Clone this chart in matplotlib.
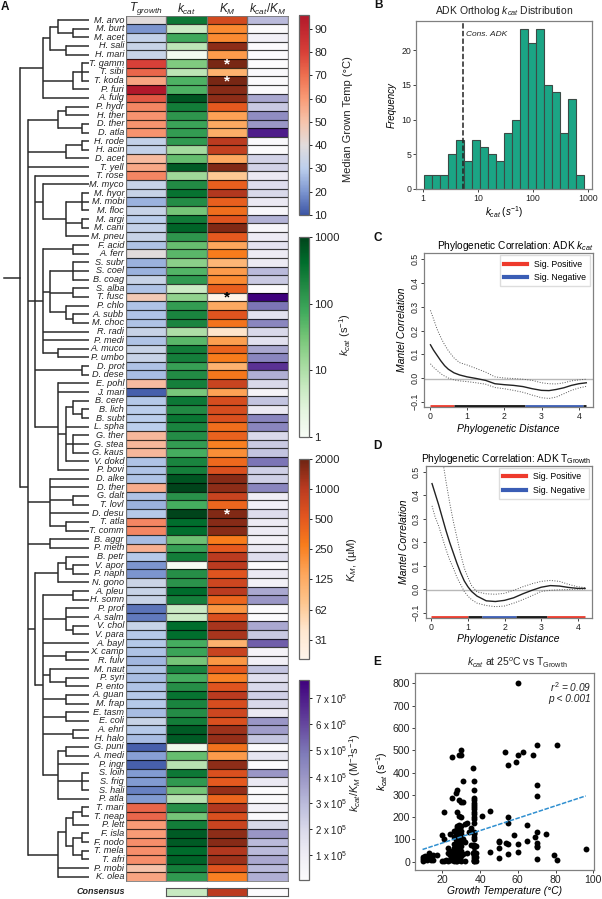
"""Recreate the ADK ortholog figure: tree heatmap plus four side panels."""

from __future__ import annotations

import matplotlib
matplotlib.use("Agg")
import matplotlib.pyplot as plt
import numpy as np
from matplotlib.cm import ScalarMappable
from matplotlib.colors import LinearSegmentedColormap, LogNorm, Normalize

plt.rcParams["font.family"] = ["Liberation Sans", "DejaVu Sans"]
plt.rcParams["mathtext.fontset"] = "custom"
plt.rcParams["mathtext.rm"] = "Liberation Sans"
plt.rcParams["mathtext.it"] = "Liberation Sans:italic"
plt.rcParams["mathtext.bf"] = "Liberation Sans:bold"

W, H = 602, 899

species = [
    "M. arvo", "M. burt", "M. acet", "H. sali", "H. mari", "T. gamm", "T. sibi", "T. koda", "P. furi", "A. fulg",
    "P. hydr", "H. ther", "D. ther", "D. atla", "H. rode", "H. acin", "D. acet", "T. yell", "T. rose", "M. myco",
    "M. hyor", "M. mobi", "M. floc", "M. argi", "M. cani", "M. pneu", "F. acid", "A. ferr", "S. subr", "S. coel",
    "B. coag", "S. alba", "T. fusc", "P. chlo", "A. subb", "M. choc", "R. radi", "P. medi", "A. muco", "P. umbo",
    "D. prot", "D. dese", "E. pohl", "J. mari", "B. cere", "B. lich", "B. subt", "L. spha", "G. ther", "G. stea",
    "G. kaus", "V. dokd", "P. bovi", "D. alke", "D. ther", "G. dalt", "T. lovl", "D. desu", "T. atla", "T. comm",
    "B. aggr", "P. meth", "B. petr", "V. apor", "P. naph", "N. gono", "A. pleu", "H. somn", "P. prof", "A. salm",
    "V. chol", "V. para", "A. bayl", "X. camp", "R. fulv", "M. naut", "P. syri", "P. ento", "A. guan", "M. frap",
    "E. tasm", "E. coli", "A. ehrl", "H. halo", "G. puni", "A. medi", "P. ingr", "S. loih", "S. frig", "S. hali",
    "P. atla", "T. mari", "T. neap", "P. lett", "F. isla", "F. nodo", "T. mela", "T. afri", "P. mobi", "K. olea",
]

t_growth = [
    40, 20, 32, 33, 33, 80, 72, 58, 96, 75,
    65, 62, 62, 62, 32, 32, 52, 57, 65, 33,
    33, 25, 33, 30, 32, 33, 28, 40, 25, 25,
    33, 28, 48, 28, 28, 28, 33, 28, 33, 33,
    28, 27, 52, 12, 29, 30, 30, 30, 53, 53,
    53, 28, 28, 28, 56, 28, 25, 29, 65, 65,
    27, 55, 29, 20, 20, 34, 33, 33, 15, 16,
    33, 29, 29, 28, 26, 28, 27, 28, 29, 29,
    27, 33, 29, 27, 12, 22, 12, 21, 21, 17,
    21, 72, 72, 60, 60, 63, 63, 63, 50, 58,
]
kcat = [
    300, 5, 80, 7, 1.3, 25, 7, 60, 60, 700,
    260, 130, 90, 110, 120, 12, 40, 600, 14, 180,
    350, 170, 30, 280, 500, 130, 40, 50, 20, 55,
    120, 5, 18, 110, 220, 220, 10, 50, 260, 250,
    100, 180, 250, 28, 300, 180, 330, 220, 170, 110,
    70, 220, 250, 700, 1000, 150, 70, 1000, 400, 400,
    35, 100, 260, 1.1, 160, 140, 430, 250, 5, 5,
    400, 400, 70, 90, 30, 220, 70, 160, 350, 220,
    170, 260, 600, 600, 1.5, 40, 8, 300, 120, 30,
    8, 160, 30, 260, 600, 600, 430, 520, 250, 120,
]
km = [
    700, 220, 220, 1500, 170, 1800, 110, 1800, 1600, 1500,
    500, 150, 130, 120, 1000, 900, 130, 1700, 70, 450,
    1100, 450, 350, 550, 1700, 500, 140, 280, 100, 170,
    220, 450, 22, 130, 550, 320, 40, 160, 420, 280,
    110, 300, 800, 150, 650, 650, 600, 350, 430, 260,
    210, 380, 600, 1600, 1500, 800, 400, 1700, 1600, 1600,
    280, 500, 1000, 1000, 550, 750, 1000, 400, 180, 600,
    1200, 1200, 110, 800, 180, 500, 250, 550, 1000, 650,
    750, 600, 1300, 1400, 330, 170, 1500, 600, 500, 1400,
    400, 1100, 600, 800, 1500, 1600, 1100, 1300, 550, 260,
]
kcat_km_1e5 = [
    3.0, 0.1, 0.8, 0.05, 0.05, 0.05, 0.2, 0.1, 0.1, 3.5,
    2.5, 4.3, 4.0, 7.0, 0.2, 0.1, 2.2, 2.2, 1.2, 1.8,
    2.0, 1.2, 0.4, 3.2, 0.4, 1.1, 1.5, 1.1, 1.1, 3.0,
    2.5, 0.05, 7.7, 5.0, 1.6, 4.5, 2.0, 1.6, 3.5, 4.5,
    6.5, 3.3, 2.0, 0.6, 2.7, 1.2, 4.5, 4.5, 2.0, 2.5,
    2.7, 5.0, 2.3, 2.3, 4.5, 1.0, 0.8, 1.8, 1.1, 1.1,
    0.7, 1.2, 1.8, 0.05, 1.2, 0.7, 3.5, 4.0, 0.05, 0.05,
    3.5, 2.5, 5.5, 0.6, 0.8, 2.7, 1.7, 2.0, 2.3, 2.0,
    1.2, 4.0, 3.8, 2.6, 0.05, 1.4, 0.05, 4.0, 1.2, 0.05,
    0.1, 0.7, 0.2, 2.0, 4.0, 3.0, 3.0, 3.5, 3.0, 3.3,
]
consensus_kcat = 5.5
consensus_km = 1000
consensus_kcat_km = 0.05
star_rows = {"T. gamm": "white", "T. koda": "white", "T. fusc": "black", "D. desu": "white"}


def leaves(first, last, depth):
    """Clade at a given depth with consecutive species as its leaves."""
    return (depth, list(range(first, last + 1)))


# tree as nested (depth, children); an int child is a row in species
tree = (20, [
    (43, [
        (50, [
            (58, [0, leaves(1, 2, 73)]),
            leaves(3, 4, 66),
        ]),
        (73, [leaves(5, 7, 82), 8]),
        9,
    ]),
    (28, [
        (58, [leaves(10, 11, 66), leaves(12, 13, 82)]),
        (66, [leaves(14, 15, 82), 16]),
        17,
        (35, [
            18,
            (43, [19, (66, [leaves(20, 22, 82), leaves(23, 24, 82), 25])]),
            (43, [
                leaves(26, 27, 73),
                (50, [
                    leaves(28, 30, 73),
                    leaves(31, 32, 73),
                    (66, [33, leaves(34, 35, 73)]),
                ]),
                36,
                37,
                leaves(38, 39, 58),
            ]),
            leaves(40, 41, 82),
            (58, [
                42,
                43,
                (66, [
                    (73, [44, leaves(45, 46, 82)]),
                    47,
                    leaves(48, 50, 73),
                    51,
                ]),
                52,
            ]),
        ]),
        (50, [53, 54, leaves(55, 56, 73), 57, leaves(58, 59, 66)]),
        leaves(60, 61, 50),
        (35, [
            (58, [(66, [62, leaves(63, 64, 73)]), 65]),
            (43, [
                leaves(66, 67, 73),
                (66, [68, 69, leaves(70, 71, 73)]),
                72,
                leaves(73, 74, 66),
                (50, [75, leaves(76, 77, 66)]),
                leaves(78, 79, 66),
                leaves(80, 81, 66),
                leaves(82, 83, 73),
                (58, [leaves(84, 85, 66), 86, leaves(87, 89, 82), 90]),
            ]),
        ]),
        (58, [
            (66, [
                (73, [leaves(91, 92, 82), 93]),
                (73, [leaves(94, 95, 82), leaves(96, 97, 82)]),
            ]),
            98,
            99,
        ]),
    ]),
])
tree_root_start = 4
leaf_end = 89

bin_counts = [2, 2, 2, 5, 7, 4, 7, 6, 5, 4, 8, 10, 23, 21, 23, 15, 14, 8, 13, 2]
bin_low, bin_high = 1.056, 853
cons_adk_kcat = 5.3

c_dist = [0.02, 0.1, 0.2, 0.3, 0.4, 0.5, 0.65, 0.8, 1.0, 1.25, 1.5, 1.75, 2.0, 2.25, 2.5, 2.75, 3.0, 3.2, 3.4, 3.6, 3.8, 4.0, 4.2]
c_mean = [0.14, 0.118, 0.095, 0.072, 0.052, 0.037, 0.022, 0.013, 0.005, -0.002, -0.01, -0.024, -0.028, -0.031, -0.036, -0.045, -0.052, -0.053, -0.048, -0.041, -0.031, -0.024, -0.02]
c_upper = [0.285, 0.25, 0.205, 0.17, 0.14, 0.115, 0.085, 0.065, 0.055, 0.04, 0.025, 0.005, 0.0, -0.002, -0.005, -0.01, -0.02, -0.024, -0.025, -0.02, -0.012, -0.008, -0.005]
c_lower = [0.06, 0.045, 0.032, 0.018, 0.008, 0.0, -0.008, -0.012, -0.015, -0.02, -0.026, -0.04, -0.045, -0.052, -0.06, -0.072, -0.083, -0.086, -0.08, -0.066, -0.052, -0.042, -0.035]
c_sig = [(0.0, 0.65, "pos"), (0.65, 2.55, "ns"), (2.55, 4.1, "neg"), (4.1, 4.2, "ns")]

d_dist = [0.02, 0.1, 0.2, 0.3, 0.4, 0.5, 0.6, 0.7, 0.8, 0.9, 1.0, 1.1, 1.25, 1.5, 1.75, 2.0, 2.25, 2.5, 2.75, 3.0, 3.25, 3.5, 3.75, 4.0, 4.2]
d_mean = [0.45, 0.41, 0.36, 0.305, 0.25, 0.2, 0.155, 0.11, 0.07, 0.035, 0.01, -0.01, -0.03, -0.05, -0.053, -0.048, -0.037, -0.02, -0.005, 0.008, 0.015, 0.013, 0.007, 0.003, 0.003]
d_upper = [0.85, 0.76, 0.66, 0.56, 0.46, 0.37, 0.29, 0.22, 0.15, 0.09, 0.05, 0.015, -0.012, -0.02, -0.022, -0.018, -0.005, 0.01, 0.023, 0.033, 0.037, 0.033, 0.02, 0.01, 0.006]
d_lower = [0.355, 0.31, 0.27, 0.22, 0.17, 0.125, 0.09, 0.05, 0.02, -0.01, -0.03, -0.045, -0.06, -0.07, -0.075, -0.072, -0.06, -0.045, -0.028, -0.01, -0.005, -0.003, -0.002, 0.0, 0.0]
d_sig = [(0.0, 1.0, "pos"), (1.0, 1.38, "ns"), (1.38, 2.3, "neg"), (2.3, 3.15, "ns"), (3.15, 4.2, "pos")]

scatter_temp = [
    10, 10, 10, 11, 11, 12, 13, 13, 14, 15, 15, 17,
    20, 20, 21, 21, 21, 22, 23, 23, 23, 24, 24, 24, 24, 25, 25, 25, 25,
    26, 26, 26, 26, 26, 26, 26, 26, 27, 27, 27, 27, 27, 27, 27, 27, 27, 27, 27, 27,
    28, 28, 28, 28, 28, 28, 28, 28, 28, 28, 28, 28, 28, 28, 28, 28, 28,
    29, 29, 29, 29, 29, 29, 29, 29, 29, 29, 29, 29,
    30, 30, 30, 30, 30, 30, 30, 30, 30, 30, 30, 30, 30,
    31, 31, 31, 31, 32, 32, 32, 33, 33, 34, 35, 35, 36, 36, 36,
    37, 37, 37, 37, 37, 37, 37, 37, 37, 37, 37, 37, 37, 37, 37, 37, 37, 37, 37, 37, 37, 37, 37, 37, 37, 37, 37, 37,
    38, 38, 38, 38, 41, 45, 45, 50, 50, 50, 50, 53, 54, 55, 55, 55, 55, 55,
    58, 59, 60, 60, 60, 60, 63, 65, 65, 68, 69, 70, 70, 70, 70, 70, 70, 70, 70, 75, 79, 81, 81, 96,
]
scatter_kcat = [
    5, 12, 20, 25, 12, 8, 40, 15, 6, 30, 6, 30,
    120, 5, 225, 100, 5, 6, 60, 40, 5, 125, 50, 30, 8, 285, 470, 25, 10,
    140, 110, 80, 60, 45, 30, 15, 5, 310, 135, 125, 100, 85, 70, 60, 50, 35, 20, 10, 5,
    320, 225, 160, 150, 140, 130, 120, 105, 95, 85, 70, 60, 50, 40, 25, 15, 5,
    480, 275, 205, 165, 145, 120, 100, 80, 65, 50, 30, 8,
    500, 480, 270, 200, 160, 140, 125, 105, 90, 70, 50, 25, 5,
    360, 270, 100, 35, 170, 90, 5, 175, 40, 135, 150, 75, 420, 75, 40,
    360, 320, 285, 275, 265, 255, 245, 235, 225, 215, 200, 190, 175, 135, 125, 110, 100, 75, 70, 65, 45, 40, 25, 15, 10, 5, 3, 130,
    70, 40, 20, 5, 205, 228, 42, 95, 88, 60, 18, 490, 85, 435, 200, 172, 78, 35,
    120, 448, 478, 80, 42, 803, 492, 163, 92, 478, 110, 522, 342, 295, 135, 82, 72, 65, 12, 125, 30, 525, 8, 58,
]
trend_temp = [9.5, 96]
trend_kcat = [55, 295]

GRID = "#808080"
TEXT = "#222222"
SIG_COLORS = {"pos": "#ee3a2c", "neg": "#3a5db5", "ns": "#111111"}
temp_anchors = [
    (10, "#3c55a5"), (20, "#7d96d0"), (30, "#bccfec"), (40, "#e2dcdc"), (50, "#f6c4ac"),
    (60, "#f99b76"), (70, "#ee7050"), (80, "#d84038"), (96, "#b2182b"),
]
temp_cmap = LinearSegmentedColormap.from_list("temp", [((t - 10) / 86, c) for t, c in temp_anchors])
km_cmap = LinearSegmentedColormap.from_list(
    "km", ["#fff5eb", "#fee6ce", "#fdc48c", "#fda55a", "#f87c1c", "#e2551f", "#b93a20", "#6e2412"]
)


def axes_px(left, top, right, bottom):
    return fig.add_axes([left / W, 1 - bottom / H, (right - left) / W, (bottom - top) / H])


def draw_clade(ax, node, parent_x=None):
    """Draw a clade as elbow lines and return the row at which it joins its parent."""
    if isinstance(node, int):
        ax.plot([parent_x, leaf_end], [node, node], color="#2b2b2b", lw=1.1, solid_capstyle="butt")
        return node
    depth, children = node
    rows = [draw_clade(ax, child, depth) for child in children]
    ax.plot([depth, depth], [rows[0], rows[-1]], color="#2b2b2b", lw=1.1, solid_capstyle="projecting")
    row = (rows[0] + rows[-1]) / 2
    if parent_x is not None:
        ax.plot([parent_x, depth], [row, row], color="#2b2b2b", lw=1.1, solid_capstyle="butt")
    return row


def style_spines(ax):
    for spine in ax.spines.values():
        spine.set_color(GRID)
        spine.set_linewidth(0.9)


def mantel_panel(ax, title, dist, mean, upper, lower, sig):
    ax.axhline(-0.005, color="#b8b8b8", lw=1.0)
    ax.plot(dist, upper, color="#555555", lw=0.7, ls=(0, (1, 1.6)))
    ax.plot(dist, lower, color="#555555", lw=0.7, ls=(0, (1, 1.6)))
    ax.plot(dist, mean, color="#222222", lw=1.0)
    for start, end, kind in sig:
        ax.plot([start, end], [-0.118, -0.118], color=SIG_COLORS[kind], lw=2.0, solid_capstyle="butt")
    ax.plot([], [], color=SIG_COLORS["pos"], lw=3, label="Sig. Positive")
    ax.plot([], [], color=SIG_COLORS["neg"], lw=3, label="Sig. Negative")
    ax.set_xlim(-0.153, 4.38)
    ax.set_ylim(-0.122, 0.5265)
    ax.set_xticks([0, 1, 2, 3, 4])
    ax.set_yticks([-0.1, 0.0, 0.1, 0.2, 0.3, 0.4, 0.5])
    ax.tick_params(axis="y", labelrotation=90, labelsize=6.3, length=2, width=0.6, pad=1.5, colors=TEXT)
    for label in ax.get_yticklabels():
        label.set_va("center")
    ax.tick_params(axis="x", labelsize=6.3, length=2, width=0.6, pad=1.5, colors=TEXT)
    ax.set_xlabel("Phylogenetic Distance", fontsize=7.5, style="italic", labelpad=2)
    ax.set_ylabel("Mantel Correlation", fontsize=7.5, style="italic", labelpad=2)
    ax.set_title(title, fontsize=7.3, pad=3, loc="right")
    ax.legend(loc="upper right", fontsize=6.3, handlelength=2.6, borderpad=0.5, labelspacing=0.5,
              bbox_to_anchor=(0.985, 0.985), borderaxespad=0, fancybox=False, edgecolor="#dddddd", framealpha=1)
    style_spines(ax)


fig = plt.figure(figsize=(W / 100, H / 100), dpi=100)

# tree and species labels
top_px, bottom_px = 15.7, 881
tree_ax = axes_px(0, top_px, 126, bottom_px)
tree_ax.set_xlim(0, 126)
tree_ax.set_ylim(len(species) - 0.5, -0.5)
tree_ax.axis("off")
root_row = draw_clade(tree_ax, tree)
tree_ax.plot([tree_root_start, tree[0]], [root_row, root_row], color="#2b2b2b", lw=1.1)
for row, name in enumerate(species):
    tree_ax.text(124, row, name, ha="right", va="center", fontsize=6.6, style="italic", color=TEXT)

# heatmap columns
columns = [
    (np.array(t_growth, float), temp_cmap, Normalize(10, 96)),
    (np.array(kcat, float), plt.cm.Greens, LogNorm(1, 1000)),
    (np.array(km, float), km_cmap, LogNorm(20, 2000)),
    (np.array(kcat_km_1e5, float), plt.cm.Purples, Normalize(0.04, 7.7)),
]
headers = [r"$T_{growth}$", r"$k_{cat}$", r"$K_{M}$", r"$k_{cat}/K_{M}$"]
col_edges = [126, 166.3, 207, 247.3, 288]
row_edges = np.arange(len(species) + 1) - 0.5
for i, (values, cmap, norm) in enumerate(columns):
    ax = axes_px(col_edges[i], top_px, col_edges[i + 1], bottom_px)
    ax.pcolormesh(np.arange(2), row_edges, values[:, None], cmap=cmap, norm=norm)
    ax.hlines(row_edges[1:-1], 0, 1, color="black", alpha=0.75, lw=0.85)
    ax.vlines([0, 1], row_edges[0], row_edges[-1], color="#555555", lw=0.9)
    ax.set_xlim(0, 1)
    ax.set_ylim(len(species) - 0.5, -0.5)
    ax.set_xticks([])
    ax.set_yticks([])
    for spine in ax.spines.values():
        spine.set_color("#777777")
        spine.set_linewidth(0.6)
    fig.text((col_edges[i] + col_edges[i + 1]) / 2 / W, 1 - 9 / H, headers[i], ha="center", va="center", fontsize=8.5, color=TEXT)
    if i == 2:
        for name, colour in star_rows.items():
            ax.text(0.5, species.index(name) + 0.1, "*", ha="center", va="center", color=colour, fontsize=11, fontweight="bold")

# consensus strip
fig.text(125 / W, 1 - 892 / H, "Consensus", ha="right", va="center", fontsize=6.5, style="italic", fontweight="bold", color=TEXT)
consensus_values = [consensus_kcat, consensus_km, consensus_kcat_km]
for i, value in enumerate(consensus_values):
    ax = axes_px(col_edges[i + 1], 888, col_edges[i + 2], 896)
    _, cmap, norm = columns[i + 1]
    ax.pcolormesh([0, 1], [0, 1], [[value]], cmap=cmap, norm=norm)
    ax.set_xticks([])
    ax.set_yticks([])
    for spine in ax.spines.values():
        spine.set_color("#555555")
        spine.set_linewidth(0.8)

# colorbars
bars = [
    (15, 215, temp_cmap, Normalize(10, 96), [10, 20, 30, 40, 50, 60, 70, 80, 90], [str(v) for v in range(10, 100, 10)],
     "Median Grown Temp (°C)", 348, 119, 8.2),
    (237, 437, plt.cm.Greens, LogNorm(1, 1000), [1, 10, 100, 1000], ["1", "10", "100", "1000"],
     r"$k_{cat}$ (s$^{-1}$)", 345, 335, 8.2),
    (459, 659, km_cmap, LogNorm(20, 2000), [31, 62, 125, 250, 500, 1000, 2000],
     ["31", "62", "125", "250", "500", "1000", "2000"], r"$K_{M}$, (µM)", 352, 560, 8.2),
    (680, 880, plt.cm.Purples, Normalize(0.04, 7.7), [1, 2, 3, 4, 5, 6, 7],
     [f"{v} x 10$^{{5}}$" for v in range(1, 8)], r"$k_{cat}/K_{M}$ (M$^{-1}$s$^{-1}$)", 355, 773, 7.0),
]
for top, bottom, cmap, norm, ticks, labels, title, lx, ly, size in bars:
    cax = axes_px(299, top, 309, bottom)
    cbar = fig.colorbar(ScalarMappable(norm=norm, cmap=cmap), cax=cax)
    cbar.set_ticks(ticks, labels=labels)
    cbar.minorticks_off()
    cbar.ax.tick_params(labelsize=size, length=2.5, width=0.7, pad=1.5, colors=TEXT)
    cbar.outline.set_edgecolor("#666666")
    cbar.outline.set_linewidth(0.9)
    fig.text(lx / W, 1 - ly / H, title, rotation=90, ha="center", va="center", fontsize=8, color=TEXT)

# panel B
ax = axes_px(416, 21, 592, 189)
edges = np.logspace(np.log10(bin_low), np.log10(bin_high), len(bin_counts) + 1)
ax.bar(edges[:-1], bin_counts, width=np.diff(edges), align="edge", color="#1ba585", edgecolor="#3c4a46", linewidth=0.8)
ax.axvline(cons_adk_kcat, color="#222222", ls=(0, (3.5, 1.5)), lw=1.1)
ax.text(cons_adk_kcat * 1.14, 22.2, "Cons. ADK", fontsize=6, style="italic", va="center", color=TEXT)
ax.set_xscale("log")
ax.set_xlim(0.755, 1183)
ax.set_ylim(0, 24.2)
ax.set_xticks([1, 10, 100, 1000], labels=["1", "10", "100", "1000"])
ax.minorticks_off()
ax.set_yticks([0, 5, 10, 15, 20])
ax.tick_params(labelsize=6.3, length=2, width=0.6, pad=1.5, colors=TEXT)
ax.set_xlabel(r"$k_{cat}$ $(s^{-1})$", fontsize=7, labelpad=1)
ax.set_ylabel("Frequency", fontsize=7, style="italic", labelpad=3)
style_spines(ax)
fig.text(504 / W, 1 - 11.5 / H, r"ADK Ortholog $k_{cat}$ Distribution", ha="center", va="center", fontsize=7.5, color=TEXT)

# panels C and D
ax = axes_px(424, 253, 593, 407)
mantel_panel(ax, r"Phylogenetic Correlation: ADK $k_{cat}$", c_dist, c_mean, c_upper, c_lower, c_sig)
ax = axes_px(425.7, 465.7, 591.7, 617.7)
mantel_panel(ax, r"Phylogenetic Correlation: ADK T$_{\mathrm{Growth}}$", d_dist, d_mean, d_upper, d_lower, d_sig)

# panel E
ax = axes_px(415, 673, 594, 870)
ax.scatter(scatter_temp, scatter_kcat, s=18, color="black", linewidths=0, zorder=2)
ax.plot(trend_temp, trend_kcat, color="#2f8fd0", ls=(0, (3, 1)), lw=1.1, zorder=3)
ax.set_xlim(5.5, 100.4)
ax.set_ylim(-37, 846)
ax.set_xticks([20, 40, 60, 80, 100])
ax.set_yticks(range(0, 900, 100))
ax.tick_params(labelsize=7.6, length=2, width=0.6, pad=1.5, colors=TEXT)
ax.set_xlabel("Growth Temperature (°C)", fontsize=7.4, style="italic", labelpad=1)
ax.set_ylabel(r"$k_{cat}$ (s$^{-1}$)", fontsize=7.4, labelpad=2)
style_spines(ax)
ax.text(0.985, 0.965, r"$r^2$ = 0.09" + "\np < 0.001", transform=ax.transAxes, ha="right", va="top", fontsize=7.3, style="italic", linespacing=1.05, color=TEXT)
fig.text(517 / W, 1 - 663 / H, r"$k_{cat}$ at 25$^{o}$C vs T$_{\mathrm{Growth}}$", ha="center", va="center", fontsize=7.5, color=TEXT)

# panel letters
for letter, lx, ly in [("A", 1, 7), ("B", 374, 5), ("C", 373, 238), ("D", 373, 446), ("E", 373, 662)]:
    fig.text(lx / W, 1 - ly / H, letter, ha="left", va="center", fontsize=8.5, fontweight="bold", color="#111111")

fig.savefig("out.png", dpi=100)
plt.close(fig)
